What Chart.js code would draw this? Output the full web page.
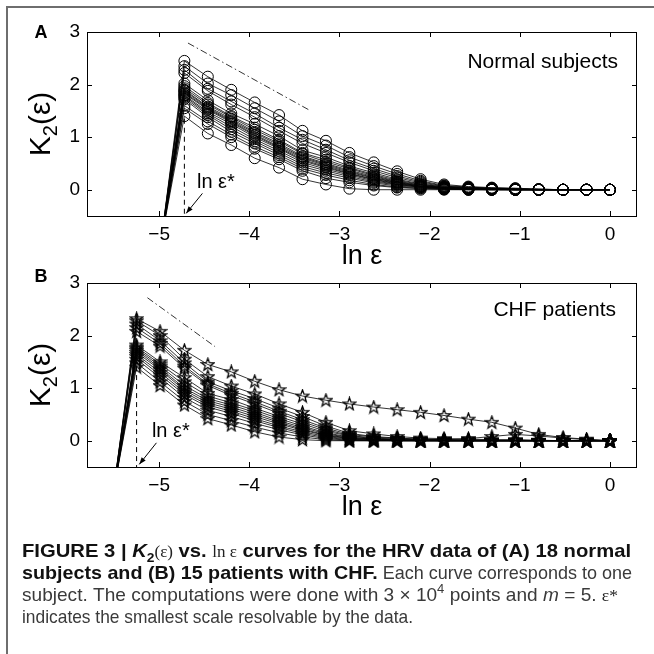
<!DOCTYPE html>
<html>
<head>
<meta charset="utf-8">
<script src="https://cdn.jsdelivr.net/npm/chart.js@4.4.1/dist/chart.umd.min.js"></script>
<style>
  html, body { margin: 0; padding: 0; background: #fff; }
  #wrap { position: relative; width: 654px; height: 654px; overflow: hidden; }
  #wrap canvas { position: absolute; left: 0; }
  #frameTop { position: absolute; left: 6px; top: 6px; right: 0; height: 2px; background: #6e6e6e; }
  #frameLeft { position: absolute; left: 6px; top: 6px; bottom: 0; width: 2px; background: #6e6e6e; }
</style>
</head>
<body>
<div id="wrap">
  <div id="frameTop"></div>
  <div id="frameLeft"></div>
  <canvas id="chartA" width="654" height="270" style="top:0"></canvas>
  <canvas id="chartB" width="654" height="270" style="top:251px"></canvas>
  <canvas id="caption" width="654" height="114" style="top:540px"></canvas>
</div>
<script>
const xTicks = [-5, -4, -3, -2, -1, 0];
const yTicks = [0, 1, 2, 3];

// ln(eps) steps; first entry is below the smallest resolvable scale
const lnEpsA = [-4.98, -4.72, -4.46, -4.20, -3.94, -3.67, -3.41, -3.15, -2.89, -2.62, -2.36, -2.10, -1.84, -1.57, -1.31, -1.05, -0.79, -0.52, -0.26, 0];
const lnEpsB = [-5.51, -5.25, -4.99, -4.72, -4.46, -4.20, -3.94, -3.67, -3.41, -3.15, -2.89, -2.62, -2.36, -2.10, -1.84, -1.57, -1.31, -1.05, -0.79, -0.52, -0.26, 0];

// K2(eps) for the 18 normal subjects
const normalK2 = [
  [-1, 2.45, 2.15, 1.90, 1.66, 1.42, 1.12, 0.93, 0.70, 0.52, 0.35, 0.20, 0.10, 0.06, 0.04, 0.03, 0.01, 0, 0, 0],
  [-1, 2.35, 2.02, 1.80, 1.55, 1.30, 1.02, 0.84, 0.62, 0.45, 0.30, 0.17, 0.08, 0.05, 0.03, 0.02, 0.01, 0, 0, 0],
  [-1, 2.28, 1.92, 1.68, 1.45, 1.18, 0.95, 0.76, 0.56, 0.40, 0.26, 0.15, 0.07, 0.04, 0.03, 0.02, 0.01, 0, 0, 0],
  [-1, 2.22, 1.88, 1.62, 1.38, 1.12, 0.88, 0.70, 0.52, 0.36, 0.23, 0.13, 0.06, 0.04, 0.02, 0.01, 0, 0, 0, 0],
  [-1, 2.02, 1.70, 1.45, 1.25, 1.02, 0.75, 0.62, 0.45, 0.32, 0.20, 0.11, 0.05, 0.03, 0.02, 0.01, 0, 0, 0, 0],
  [-1, 1.97, 1.65, 1.40, 1.18, 0.95, 0.70, 0.57, 0.42, 0.29, 0.18, 0.10, 0.05, 0.03, 0.02, 0.01, 0, 0, 0, 0],
  [-1, 1.93, 1.62, 1.38, 1.14, 0.92, 0.68, 0.53, 0.40, 0.27, 0.16, 0.09, 0.04, 0.03, 0.02, 0.01, 0, 0, 0, 0],
  [-1, 1.90, 1.58, 1.35, 1.10, 0.88, 0.64, 0.50, 0.37, 0.25, 0.15, 0.08, 0.04, 0.02, 0.01, 0.01, 0, 0, 0, 0],
  [-1, 1.88, 1.56, 1.32, 1.08, 0.85, 0.62, 0.48, 0.35, 0.23, 0.14, 0.07, 0.04, 0.02, 0.01, 0, 0, 0, 0, 0],
  [-1, 1.85, 1.54, 1.30, 1.05, 0.82, 0.60, 0.46, 0.33, 0.22, 0.13, 0.07, 0.03, 0.02, 0.01, 0, 0, 0, 0, 0],
  [-1, 1.83, 1.52, 1.28, 1.03, 0.80, 0.57, 0.44, 0.31, 0.20, 0.12, 0.06, 0.03, 0.02, 0.01, 0, 0, 0, 0, 0],
  [-1, 1.80, 1.48, 1.25, 1.00, 0.78, 0.55, 0.42, 0.30, 0.19, 0.11, 0.06, 0.03, 0.02, 0.01, 0, 0, 0, 0, 0],
  [-1, 1.78, 1.45, 1.20, 0.96, 0.74, 0.52, 0.39, 0.28, 0.17, 0.10, 0.05, 0.02, 0.01, 0.01, 0, 0, 0, 0, 0],
  [-1, 1.75, 1.42, 1.15, 0.92, 0.70, 0.48, 0.36, 0.25, 0.15, 0.09, 0.05, 0.02, 0.01, 0, 0, 0, 0, 0, 0],
  [-1, 1.72, 1.38, 1.10, 0.88, 0.66, 0.44, 0.32, 0.22, 0.13, 0.07, 0.04, 0.02, 0.01, 0, 0, 0, 0, 0, 0],
  [-1, 1.60, 1.30, 1.05, 0.82, 0.62, 0.40, 0.28, 0.18, 0.10, 0.05, 0.03, 0.01, 0, 0, 0, 0, 0, 0, 0],
  [-1, 1.55, 1.25, 1.00, 0.78, 0.58, 0.36, 0.22, 0.14, 0.08, 0.04, 0.02, 0.01, 0, 0, 0, 0, 0, 0, 0],
  [-1, 1.40, 1.07, 0.85, 0.60, 0.42, 0.20, 0.10, 0.02, 0, 0, 0, 0, 0, 0, 0, 0, 0, 0, 0]
];

// K2(eps) for the 15 CHF patients
const chfK2 = [
  [-1, 2.32, 2.08, 1.72, 1.45, 1.31, 1.13, 0.97, 0.85, 0.77, 0.70, 0.64, 0.59, 0.54, 0.48, 0.41, 0.35, 0.24, 0.12, 0.06, 0.03, 0],
  [-1, 2.28, 2.00, 1.55, 1.22, 1.04, 0.89, 0.70, 0.54, 0.35, 0.19, 0.13, 0.08, 0.05, 0.04, 0.03, 0.02, 0.02, 0.01, 0, 0, 0],
  [-1, 2.22, 1.90, 1.48, 1.12, 0.95, 0.80, 0.62, 0.46, 0.28, 0.14, 0.08, 0.05, 0.03, 0.02, 0.04, 0.08, 0.12, 0.09, 0.05, 0.02, 0],
  [-1, 2.15, 1.85, 1.42, 1.08, 0.90, 0.74, 0.56, 0.40, 0.24, 0.12, 0.07, 0.04, 0.03, 0.02, 0.02, 0.01, 0.01, 0, 0, 0, 0],
  [-1, 2.08, 1.80, 1.38, 1.05, 0.86, 0.70, 0.52, 0.36, 0.21, 0.10, 0.05, 0.03, 0.02, 0.01, 0.01, 0, 0, 0, 0, 0, 0],
  [-1, 1.82, 1.50, 1.20, 0.90, 0.78, 0.62, 0.46, 0.32, 0.18, 0.09, 0.04, 0.02, 0.01, 0.01, 0, 0, 0, 0, 0, 0, 0],
  [-1, 1.78, 1.46, 1.12, 0.85, 0.72, 0.58, 0.42, 0.28, 0.15, 0.07, 0.03, 0.02, 0.01, 0, 0, 0, 0, 0, 0, 0, 0],
  [-1, 1.75, 1.42, 1.05, 0.80, 0.68, 0.54, 0.38, 0.25, 0.13, 0.06, 0.03, 0.01, 0.01, 0, 0, 0, 0, 0, 0, 0, 0],
  [-1, 1.72, 1.38, 1.00, 0.76, 0.64, 0.50, 0.35, 0.22, 0.11, 0.05, 0.02, 0.01, 0, 0, 0, 0, 0, 0, 0, 0, 0],
  [-1, 1.68, 1.35, 0.96, 0.72, 0.60, 0.46, 0.32, 0.20, 0.10, 0.04, 0.02, 0.01, 0, 0, 0, 0, 0, 0, 0, 0, 0],
  [-1, 1.64, 1.30, 0.92, 0.68, 0.56, 0.42, 0.28, 0.17, 0.08, 0.03, 0.01, 0, 0, 0, 0, 0, 0, 0, 0, 0, 0],
  [-1, 1.60, 1.25, 0.88, 0.64, 0.52, 0.38, 0.25, 0.14, 0.06, 0.02, 0.01, 0, 0, 0, 0, 0, 0, 0, 0, 0, 0],
  [-1, 1.55, 1.20, 0.82, 0.58, 0.46, 0.33, 0.21, 0.11, 0.04, 0.01, 0, 0, 0, 0, 0, 0, 0, 0, 0, 0, 0],
  [-1, 1.48, 1.12, 0.75, 0.50, 0.38, 0.26, 0.15, 0.07, 0.02, 0, 0, 0, 0, 0, 0, 0, 0, 0, 0, 0, 0],
  [-1, 1.40, 1.05, 0.68, 0.42, 0.30, 0.17, 0.07, 0.02, 0, 0, 0, 0, 0, 0, 0, 0, 0, 0, 0, 0, 0]
];

// slope guide (dash-dot) and ln eps* marker
const slopeAx = [-4.68, -3.34], slopeAy = [2.79, 1.52];
const slopeBx = [-5.13, -4.38], slopeBy = [2.72, 1.79];
const epsStarA = -4.72, epsStarTopA = 1.35;
const epsStarB = -5.25, epsStarTopB = 1.42;

const FONT = "'Liberation Sans', Arial, Helvetica, sans-serif";
const SERIF = "'Liberation Serif', 'Times New Roman', serif";

// open pentagram marker for the CHF panel
const star = document.createElement('canvas');
star.width = 15; star.height = 15;
(function () {
  const c = star.getContext('2d');
  c.beginPath();
  for (let i = 0; i < 10; i++) {
    const r = i % 2 === 0 ? 6.6 : 2.7;
    const a = -Math.PI / 2 + i * Math.PI / 5;
    const px = 7.5 + r * Math.cos(a), py = 7.9 + r * Math.sin(a);
    i === 0 ? c.moveTo(px, py) : c.lineTo(px, py);
  }
  c.closePath();
  c.strokeStyle = '#000';
  c.lineWidth = 1.25;
  c.stroke();
})();

function curveSets(xs, rows, marker) {
  return rows.map(r => ({
    data: r.map((v, i) => ({ x: xs[i], y: v })),
    borderColor: '#000',
    borderWidth: 0.8,
    pointStyle: marker,
    pointRadius: c => (c.raw && c.raw.y < -0.5 ? 0 : 5.5),
    pointBorderColor: '#000',
    pointBackgroundColor: 'rgba(0,0,0,0)',
    pointBorderWidth: 1,
    tension: 0
  }));
}

function guideSets(sx, sy, starX, starTop) {
  return [
    {
      data: sx.map((v, i) => ({ x: v, y: sy[i] })),
      borderColor: '#000', borderWidth: 0.8, borderDash: [7, 3, 1.5, 3], pointRadius: 0
    },
    {
      data: [{ x: starX, y: starTop }, { x: starX, y: -0.5 }],
      borderColor: '#000', borderWidth: 1, borderDash: [5, 4], pointRadius: 0
    }
  ];
}

function arrow(ctx, x1, y1, x2, y2) {
  ctx.beginPath();
  ctx.moveTo(x1, y1);
  ctx.lineTo(x2, y2);
  ctx.stroke();
  const a = Math.atan2(y2 - y1, x2 - x1);
  ctx.beginPath();
  ctx.moveTo(x2, y2);
  ctx.lineTo(x2 - 7 * Math.cos(a) + 2.6 * Math.sin(a), y2 - 7 * Math.sin(a) - 2.6 * Math.cos(a));
  ctx.lineTo(x2 - 7 * Math.cos(a) - 2.6 * Math.sin(a), y2 - 7 * Math.sin(a) + 2.6 * Math.cos(a));
  ctx.closePath();
  ctx.fill();
}

const decor = {
  id: 'decor',
  afterDraw(chart, args, o) {
    const { ctx, chartArea: a, scales: { x, y } } = chart;
    ctx.save();
    ctx.strokeStyle = '#000';
    ctx.fillStyle = '#000';
    ctx.lineWidth = 1;
    ctx.strokeRect(a.left + 0.5, a.top + 0.5, a.right - a.left - 1, a.bottom - a.top);
    // inward ticks on all four sides
    ctx.beginPath();
    xTicks.forEach(v => {
      const px = Math.round(x.getPixelForValue(v)) + 0.5;
      ctx.moveTo(px, a.bottom); ctx.lineTo(px, a.bottom - 5);
      ctx.moveTo(px, a.top); ctx.lineTo(px, a.top + 5);
    });
    yTicks.forEach(v => {
      const py = Math.round(y.getPixelForValue(v)) + 0.5;
      ctx.moveTo(a.left, py); ctx.lineTo(a.left + 5, py);
      ctx.moveTo(a.right, py); ctx.lineTo(a.right - 5, py);
    });
    ctx.stroke();

    // panel letter
    ctx.font = 'bold 18px ' + FONT;
    ctx.textAlign = 'center';
    ctx.textBaseline = 'middle';
    ctx.fillText(o.letter, 41, o.letterY);

    // x label
    ctx.font = '27px ' + FONT;
    ctx.fillText('ln \u03b5', (a.left + a.right) / 2, a.bottom + 41);

    // y label K_2(eps), rotated
    ctx.save();
    ctx.translate(40, (a.top + a.bottom) / 2);
    ctx.rotate(-Math.PI / 2);
    ctx.textAlign = 'left';
    ctx.textBaseline = 'alphabetic';
    ctx.font = '30px ' + FONT;
    const wK = ctx.measureText('K').width;
    const wP = ctx.measureText('(\u03b5)').width;
    ctx.font = '20px ' + FONT;
    const w2 = ctx.measureText('2').width;
    const sx = -(wK + w2 + wP) / 2;
    ctx.font = '30px ' + FONT;
    ctx.fillText('K', sx, 10);
    ctx.font = '20px ' + FONT;
    ctx.fillText('2', sx + wK, 17);
    ctx.font = '30px ' + FONT;
    ctx.fillText('(\u03b5)', sx + wK + w2, 10);
    ctx.restore();

    // panel title
    ctx.font = '21px ' + FONT;
    ctx.textAlign = 'right';
    ctx.fillText(o.title, o.titleX, o.titleY);

    // ln eps* note with arrow
    ctx.font = '20px ' + FONT;
    ctx.textAlign = 'left';
    ctx.fillText('ln \u03b5*', x.getPixelForValue(o.noteX), y.getPixelForValue(o.noteY));
    arrow(ctx, x.getPixelForValue(o.arrow[0]), y.getPixelForValue(o.arrow[1]),
               x.getPixelForValue(o.arrow[2]), y.getPixelForValue(o.arrow[3]));
    ctx.restore();
  }
};

function panelOptions(note) {
  const tickFont = { family: FONT, size: 19 };
  return {
    responsive: false,
    animation: false,
    events: [],
    layout: { padding: { top: 32, right: 17, left: 0, bottom: 0 } },
    plugins: { legend: { display: false }, tooltip: { enabled: false }, decor: note },
    scales: {
      x: {
        type: 'linear', min: -5.8, max: 0.3,
        afterBuildTicks: s => { s.ticks = xTicks.map(v => ({ value: v })); },
        afterFit: s => { s.height = 54; },
        grid: { display: false, drawTicks: false },
        border: { display: false },
        ticks: { padding: 7, color: '#000', font: tickFont, maxRotation: 0,
                 callback: v => (v < 0 ? '\u2212' + Math.abs(v) : String(v)) }
      },
      y: {
        type: 'linear', min: -0.5, max: 3,
        afterBuildTicks: s => { s.ticks = yTicks.map(v => ({ value: v })); },
        afterFit: s => { s.width = 87; },
        grid: { display: false, drawTicks: false },
        border: { display: false },
        ticks: { padding: 7, color: '#000', font: tickFont, callback: v => String(v) }
      }
    }
  };
}

new Chart(document.getElementById('chartA'), {
  type: 'line',
  data: { datasets: [...guideSets(slopeAx, slopeAy, epsStarA, epsStarTopA), ...curveSets(lnEpsA, normalK2, 'circle')] },
  options: panelOptions({ letter: 'A', letterY: 33, title: 'Normal subjects', titleX: 618, titleY: 62,
                          noteX: -4.58, noteY: 0.13, arrow: [-4.52, -0.07, -4.70, -0.45] }),
  plugins: [decor]
});

new Chart(document.getElementById('chartB'), {
  type: 'line',
  data: { datasets: [...guideSets(slopeBx, slopeBy, epsStarB, epsStarTopB), ...curveSets(lnEpsB, chfK2, star)] },
  options: panelOptions({ letter: 'B', letterY: 26, title: 'CHF patients', titleX: 616, titleY: 59,
                          noteX: -5.08, noteY: 0.17, arrow: [-5.03, -0.04, -5.22, -0.45] }),
  plugins: [decor]
});

// caption
const captionLines = [
  [['b', 'FIGURE 3 | '], ['bi', 'K'], ['bsub', '2'], ['serif', '(\u03b5)'], ['b', ' vs. '], ['serif', 'ln \u03b5'], ['b', ' curves for the HRV data of (A) 18 normal']],
  [['b', 'subjects and (B) 15 patients with CHF.'], ['n', ' Each curve corresponds to one']],
  [['n', 'subject. The computations were done with 3 \u00d7 10'], ['sup', '4'], ['n', ' points and '], ['i', 'm'], ['n', ' = 5. '], ['serif', '\u03b5*']],
  [['n', 'indicates the smallest scale resolvable by the data.']]
];
const captionWidths = [609, 610, 596, 391];

(function drawCaption() {
  const c = document.getElementById('caption').getContext('2d');
  const fonts = {
    b: ['bold 19px ' + FONT, 0, '#111', false],
    bi: ['italic bold 19px ' + FONT, 0, '#111', false],
    bsub: ['bold 13px ' + FONT, 5, '#111', false],
    n: ['19px ' + FONT, 0, '#3a3a3a', true],
    i: ['italic 19px ' + FONT, 0, '#3a3a3a', true],
    sup: ['13px ' + FONT, -8, '#3a3a3a', true],
    serif: ['16px ' + SERIF, 0, '#222', false]
  };
  // regular weight runs narrower than bold in the original typesetting
  c.font = fonts.n[0];
  const cond = captionWidths[3] / c.measureText(captionLines[3][0][1]).width;
  const segW = (key, s) => {
    c.font = fonts[key][0];
    return c.measureText(s).width * (fonts[key][3] ? cond : 1);
  };
  captionLines.forEach((line, li) => {
    let w = 0;
    line.forEach(([key, s]) => { w += segW(key, s); });
    const k = li === 3 ? 1 : Math.max(0.9, Math.min(1.1, captionWidths[li] / w));
    let x = 22;
    const base = 17 + li * 22;
    line.forEach(([key, s]) => {
      const f = fonts[key];
      const sc = k * (f[3] ? cond : 1);
      c.save();
      c.translate(x, base + f[1]);
      c.scale(sc, 1);
      c.font = f[0];
      c.fillStyle = f[2];
      c.fillText(s, 0, 0);
      c.restore();
      x += segW(key, s) * k;
    });
  });
})();
</script>
</body>
</html>
